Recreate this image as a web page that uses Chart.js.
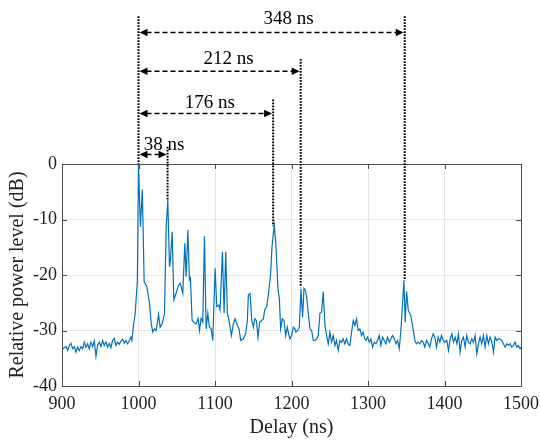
<!DOCTYPE html>
<html>
<head>
<meta charset="utf-8">
<script src="https://cdn.jsdelivr.net/npm/chart.js@4.4.1/dist/chart.umd.min.js"></script>
<style>
  html, body { margin: 0; padding: 0; background: #ffffff; }
  #wrap { width: 540px; height: 440px; }
</style>
</head>
<body>
<div id="wrap"><canvas id="c" width="540" height="440"></canvas></div>
<script>
// ---------------- data ----------------
const delayNs = [
  900.0, 903.0, 905.6, 907.4, 909.6, 911.7, 913.9, 916.1, 918.3, 920.4,
  922.6, 924.8, 927.0, 929.1, 931.3, 933.5, 935.7, 937.8, 940.0, 942.2,
  944.4, 946.5, 948.7, 950.9, 953.1, 955.2, 957.4, 959.6, 961.8, 963.9,
  966.1, 968.3, 970.5, 972.7, 974.8, 977.0, 979.2, 981.4, 983.5, 985.7,
  987.9, 990.1, 991.4, 993.5, 995.7, 998.5, 1000.0, 1002.5, 1005.0, 1007.4,
  1010.9, 1014.4, 1016.6, 1018.8, 1020.9, 1023.1, 1026.2, 1028.3, 1030.9, 1034.0,
  1036.2, 1038.3, 1040.5, 1041.8, 1044.0, 1046.2, 1049.2, 1052.3, 1054.4, 1055.8,
  1057.9, 1060.5, 1062.3, 1064.5, 1066.6, 1067.9, 1070.1, 1073.2, 1075.3, 1078.0,
  1079.7, 1081.9, 1084.0, 1086.2, 1088.4, 1090.6, 1092.7, 1094.9, 1097.1, 1100.1,
  1102.3, 1104.9, 1106.6, 1109.7, 1111.9, 1114.0, 1116.2, 1118.4, 1121.4, 1124.0,
  1126.2, 1129.3, 1131.4, 1133.6, 1137.1, 1140.1, 1142.3, 1143.6, 1145.8, 1148.0,
  1150.2, 1151.9, 1154.1, 1156.2, 1158.4, 1161.0, 1163.2, 1165.0, 1167.6, 1169.7,
  1172.8, 1174.5, 1176.3, 1177.5, 1179.5, 1182.4, 1184.1, 1185.8, 1188.0, 1190.2,
  1192.4, 1194.5, 1196.7, 1198.0, 1200.2, 1202.4, 1204.5, 1205.8, 1208.0, 1210.2,
  1212.4, 1214.5, 1216.3, 1218.0, 1219.8, 1221.9, 1224.1, 1226.3, 1228.5, 1230.6,
  1232.8, 1235.0, 1237.2, 1239.3, 1241.5, 1243.7, 1245.9, 1248.0, 1250.2, 1252.4,
  1254.6, 1256.8, 1258.9, 1261.1, 1263.3, 1265.5, 1267.6, 1269.8, 1272.0, 1274.2,
  1276.3, 1278.5, 1280.7, 1282.9, 1285.0, 1287.2, 1289.4, 1291.6, 1293.7, 1295.9,
  1297.3, 1299.5, 1301.7, 1303.8, 1306.0, 1308.2, 1310.4, 1312.5, 1314.7, 1316.9,
  1319.1, 1321.3, 1323.4, 1325.6, 1327.8, 1330.0, 1332.1, 1334.3, 1336.5, 1338.7,
  1340.8, 1343.0, 1347.0, 1348.6, 1350.5, 1352.6, 1356.0, 1359.0, 1361.3, 1363.4,
  1365.6, 1367.8, 1370.0, 1372.1, 1374.3, 1376.5, 1378.7, 1380.8, 1383.0, 1385.2,
  1387.4, 1389.6, 1391.7, 1393.9, 1396.1, 1398.3, 1400.4, 1403.0, 1405.2, 1407.4,
  1409.6, 1411.7, 1413.9, 1416.1, 1418.3, 1420.4, 1422.6, 1424.8, 1427.0, 1429.1,
  1431.3, 1433.5, 1435.7, 1437.8, 1440.0, 1442.2, 1444.4, 1446.5, 1448.7, 1450.9,
  1453.1, 1455.3, 1457.4, 1459.6, 1461.8, 1464.0, 1466.1, 1468.3, 1470.5, 1472.7,
  1474.8, 1477.0, 1479.2, 1481.4, 1483.5, 1485.7, 1487.9, 1490.1, 1492.2, 1494.4,
  1496.6, 1498.8, 1500.0
];
const powerDb = [
  -33.5, -33.1, -32.9, -33.6, -32.7, -32.3, -33.3, -32.9, -33.9, -33.0,
  -33.6, -32.9, -33.3, -32.1, -33.0, -32.4, -33.3, -32.1, -32.9, -31.9,
  -34.7, -32.7, -32.1, -32.9, -31.8, -32.7, -32.1, -33.0, -32.3, -33.1,
  -31.8, -31.4, -32.7, -32.1, -32.5, -31.9, -31.6, -32.3, -31.8, -32.4,
  -31.9, -31.2, -31.8, -29.0, -26.9, -21.0, 0.0, -11.3, -4.6, -21.2,
  -22.1, -25.1, -28.8, -30.3, -29.7, -30.0, -27.1, -29.4, -28.8, -26.9,
  -11.3, -6.5, -18.5, -17.3, -12.2, -24.5, -23.3, -21.8, -21.5, -22.1,
  -23.3, -14.3, -20.3, -11.9, -20.9, -20.6, -28.2, -28.6, -28.8, -27.8,
  -30.0, -27.8, -28.5, -13.0, -29.7, -26.9, -29.4, -29.7, -31.8, -18.8,
  -25.7, -25.4, -26.3, -15.8, -26.9, -15.8, -26.9, -28.2, -30.9, -28.8,
  -27.9, -29.1, -29.7, -31.8, -31.5, -30.6, -28.2, -23.6, -23.3, -28.2,
  -29.4, -27.9, -28.2, -31.2, -28.5, -28.2, -27.9, -26.3, -25.7, -23.6,
  -19.7, -14.9, -12.5, -11.1, -14.3, -22.7, -24.2, -29.7, -27.9, -28.2,
  -30.9, -29.4, -30.9, -31.5, -30.9, -29.4, -29.7, -30.3, -30.0, -29.4,
  -22.5, -27.6, -22.4, -22.7, -23.9, -26.9, -29.7, -30.0, -31.8, -31.8,
  -31.5, -30.9, -26.9, -26.7, -23.0, -29.1, -30.9, -32.4, -30.3, -32.1,
  -30.9, -32.7, -31.8, -33.6, -31.8, -32.1, -31.5, -32.4, -31.5, -32.4,
  -32.7, -30.3, -28.2, -29.1, -27.9, -30.0, -29.7, -30.9, -30.3, -31.5,
  -31.8, -31.2, -32.1, -31.5, -33.0, -32.1, -32.4, -31.8, -30.9, -32.7,
  -31.2, -31.8, -32.4, -31.2, -32.1, -31.5, -30.9, -31.5, -32.4, -31.8,
  -33.3, -30.0, -21.0, -28.5, -23.0, -26.3, -27.4, -29.7, -31.8, -32.4,
  -32.1, -32.4, -31.8, -32.1, -33.0, -31.8, -32.4, -33.0, -31.5, -30.6,
  -31.2, -33.0, -31.2, -32.1, -30.9, -31.8, -32.1, -31.8, -33.6, -31.5,
  -30.6, -32.1, -31.2, -32.4, -30.6, -33.9, -31.8, -31.2, -33.0, -30.9,
  -32.1, -32.4, -31.5, -32.1, -30.9, -34.2, -32.4, -31.2, -32.4, -30.9,
  -33.0, -30.9, -32.4, -31.2, -32.1, -33.9, -31.2, -31.8, -31.5, -31.5,
  -31.8, -32.4, -33.0, -32.4, -32.7, -32.4, -33.0, -32.7, -32.1, -33.0,
  -32.7, -33.3, -33.0
];
const xTicks = [900, 1000, 1100, 1200, 1300, 1400, 1500];
const yTicks = [-40, -30, -20, -10, 0];

// annotation data: reference path and the delayed paths
const markerDelays = [1000, 1038, 1176, 1212, 1348];   // ns
const markerPeaksDb = [0, -6.5, -11.2, -22.2, -21.0];   // level where each dotted line ends
const markerTopsDb = [26.6, 3.1, 11.6, 18.9, 26.6];     // top of each dotted line (extended y units)
const arrowLevelsDb = [null, 1.7, 9.1, 16.7, 23.7];     // level of each dashed arrow (extended y units)

// ---------------- chart ----------------
const points = delayNs.map((d, i) => ({ x: d, y: powerDb[i] }));
const serif = "'Liberation Serif', 'Times New Roman', serif";

const annotationPlugin = {
  id: 'delayAnnotations',
  afterDraw(chart) {
    const ctx = chart.ctx, xs = chart.scales.x, ys = chart.scales.y;
    const ca = chart.chartArea;
    ctx.save();
    // box + inward ticks
    ctx.strokeStyle = '#4d4d4d';
    ctx.lineWidth = 1;
    ctx.setLineDash([]);
    ctx.strokeRect(Math.round(ca.left) + 0.5, Math.round(ca.top) + 0.5,
                   Math.round(ca.right - ca.left), Math.round(ca.bottom - ca.top));
    ctx.beginPath();
    xTicks.forEach(v => {
      const x = Math.round(xs.getPixelForValue(v)) + 0.5;
      ctx.moveTo(x, ca.bottom); ctx.lineTo(x, ca.bottom - 5);
      ctx.moveTo(x, ca.top); ctx.lineTo(x, ca.top + 5);
    });
    yTicks.forEach(v => {
      const y = Math.round(ys.getPixelForValue(v)) + 0.5;
      ctx.moveTo(ca.left, y); ctx.lineTo(ca.left + 5, y);
      ctx.moveTo(ca.right, y); ctx.lineTo(ca.right - 5, y);
    });
    ctx.stroke();

    // dotted vertical lines
    ctx.strokeStyle = '#000';
    ctx.lineWidth = 2;
    ctx.setLineDash([1.6, 1.4]);
    markerDelays.forEach((d, i) => {
      const x = xs.getPixelForValue(d);
      ctx.beginPath();
      ctx.moveTo(x, ys.getPixelForValue(markerTopsDb[i]));
      ctx.lineTo(x, ys.getPixelForValue(markerPeaksDb[i]));
      ctx.stroke();
    });

    // dashed double arrows + labels
    const x0 = xs.getPixelForValue(markerDelays[0]);
    const labelDx = [0, 11, 4, 9, 17];
    const labelDy = [0, -5, -5, -7, -8];
    for (let i = 1; i < markerDelays.length; i++) {
      const x1 = xs.getPixelForValue(markerDelays[i]);
      const y = ys.getPixelForValue(arrowLevelsDb[i]);
      const head = 8, hw = 3.8;
      ctx.strokeStyle = '#000';
      ctx.lineWidth = 1.6;
      ctx.setLineDash([5, 3]);
      ctx.beginPath();
      ctx.moveTo(x0 + head, y); ctx.lineTo(x1 - head, y);
      ctx.stroke();
      ctx.setLineDash([]);
      ctx.fillStyle = '#000';
      ctx.beginPath();
      ctx.moveTo(x0 + 1, y); ctx.lineTo(x0 + 1 + head, y - hw); ctx.lineTo(x0 + 1 + head, y + hw); ctx.closePath();
      ctx.fill();
      ctx.beginPath();
      ctx.moveTo(x1 - 1, y); ctx.lineTo(x1 - 1 - head, y - hw); ctx.lineTo(x1 - 1 - head, y + hw); ctx.closePath();
      ctx.fill();
      ctx.font = '19px ' + serif;
      ctx.textAlign = 'center';
      ctx.textBaseline = 'alphabetic';
      ctx.fillStyle = '#000';
      ctx.fillText((markerDelays[i] - markerDelays[0]) + ' ns', (x0 + x1) / 2 + labelDx[i], y + labelDy[i]);
    }
    ctx.restore();
  }
};

new Chart(document.getElementById('c'), {
  type: 'line',
  data: {
    datasets: [{
      data: points,
      borderColor: '#0072BD',
      borderWidth: 1.2,
      pointRadius: 0,
      tension: 0,
      fill: false
    }]
  },
  options: {
    responsive: false,
    animation: false,
    events: [],
    layout: { padding: { top: 164, right: 19, left: 0, bottom: 0 } },
    plugins: { legend: { display: false }, tooltip: { enabled: false } },
    scales: {
      x: {
        type: 'linear',
        min: 900, max: 1500,
        afterBuildTicks: s => { s.ticks = xTicks.map(v => ({ value: v })); },
        afterFit: s => { s.height = 54; s.paddingLeft = 0; s.paddingRight = 0; },
        grid: { color: '#e6e6e6', drawTicks: false },
        border: { color: '#4d4d4d' },
        ticks: { color: '#222', padding: 7, maxRotation: 0, font: { family: serif, size: 18 }, callback: v => String(v) },
        title: { display: true, text: 'Delay (ns)', color: '#222', padding: { top: 0, bottom: 0 }, font: { family: serif, size: 20 } }
      },
      y: {
        type: 'linear',
        min: -40, max: 0,
        afterBuildTicks: s => { s.ticks = yTicks.map(v => ({ value: v })); },
        afterFit: s => { s.width = 62; },
        grid: { color: '#e6e6e6', drawTicks: false },
        border: { color: '#4d4d4d' },
        ticks: { color: '#222', padding: 5, font: { family: serif, size: 18 }, callback: v => String(v) },
        title: { display: true, text: 'Relative power level (dB)', color: '#222', padding: { top: 6, bottom: 0 }, font: { family: serif, size: 20 } }
      }
    }
  },
  plugins: [annotationPlugin]
});
</script>
</body>
</html>
